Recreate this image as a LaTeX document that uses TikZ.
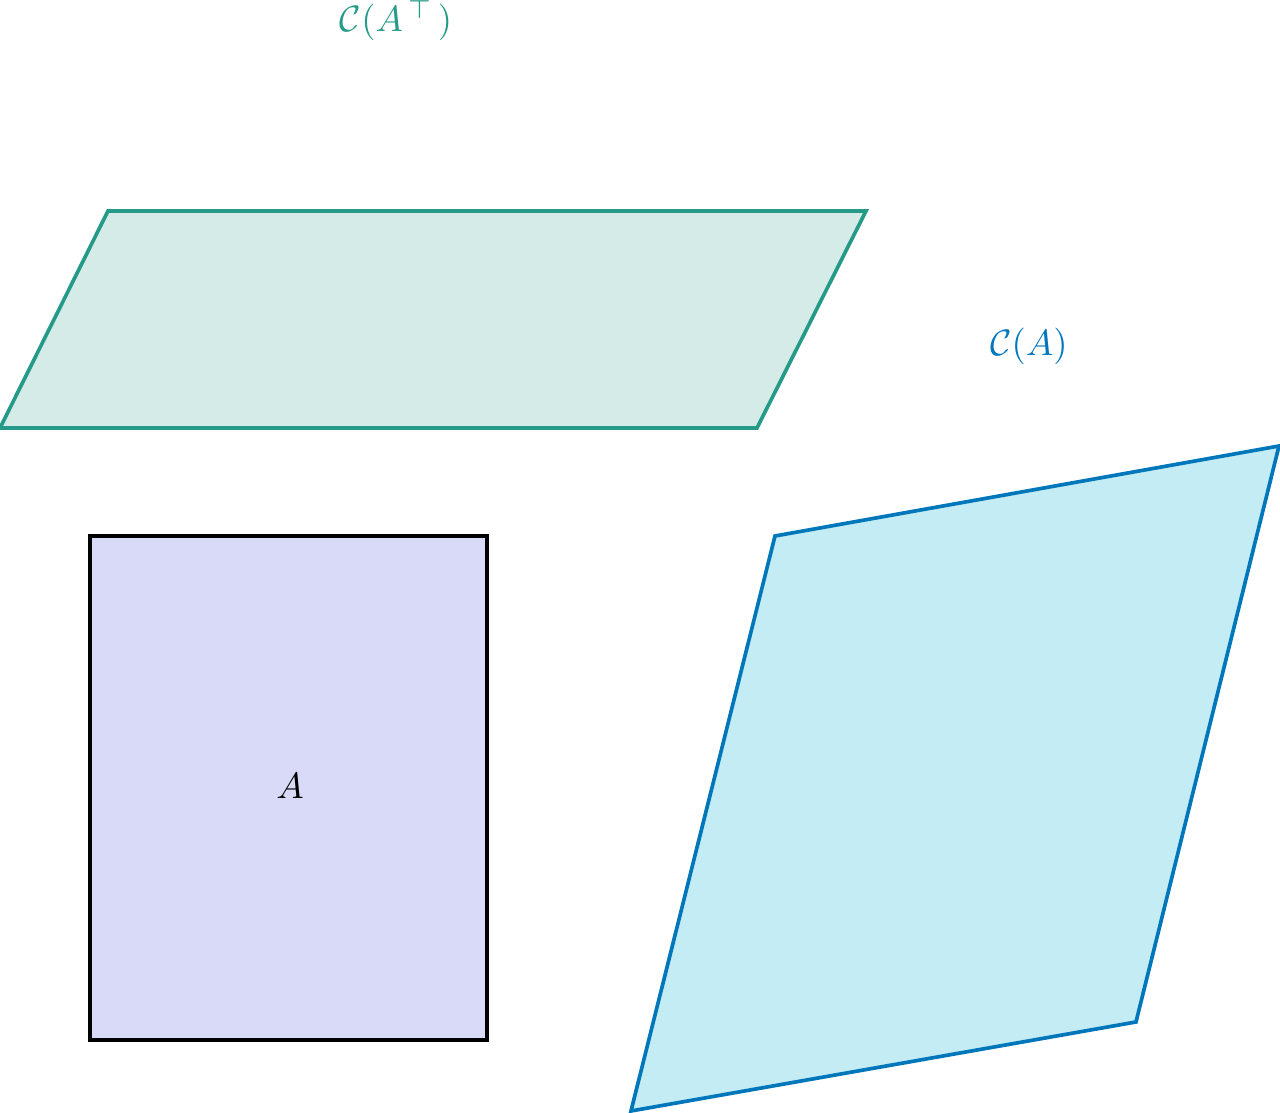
\documentclass[tikz,border=0pt]{standalone}
\usepackage{amsmath,amssymb}
\definecolor{tealline}{RGB}{38,154,136}
\definecolor{tealfill}{RGB}{213,235,231}
\definecolor{blueline}{RGB}{0,119,187}
\definecolor{bluefill}{RGB}{196,236,244}
\definecolor{rectfill}{RGB}{216,218,248}
\begin{document}
\begin{tikzpicture}[x=0.0096cm,y=-0.0096cm,
  plane/.style={line width=1pt, line join=miter},
  lbl/.style={inner sep=0pt}]
\useasboundingbox (0,0) rectangle (1280,1113);
% row space plane
\coordinate (g1) at (108,211);
\coordinate (g2) at (866,211);
\coordinate (g3) at (757,428);
\coordinate (g4) at (0,428);
\draw[plane, draw=tealline, fill=tealfill] (g1) -- (g2) -- (g3) -- (g4) -- cycle;
% column space plane
\coordinate (b1) at (775,536);
\coordinate (b2) at (1279,446);
\coordinate (b3) at (1136,1022);
\coordinate (b4) at (631,1111);
\draw[plane, draw=blueline, fill=bluefill] (b1) -- (b2) -- (b3) -- (b4) -- cycle;
% matrix
\node[draw=black, line width=1.1pt, fill=rectfill, minimum width=397*0.0096cm, minimum height=504*0.0096cm, anchor=north west, inner sep=0pt, outer sep=0pt] (A) at (90,536) {};
\node[lbl] (Alab) at (290,786) {$A$};
\node[lbl, text=tealline] (rowlab) at (396,21) {$\mathcal{C}(A^{\,\top\,})$};
\node[lbl, text=blueline] (collab) at (1029,346) {$\mathcal{C}(A)$};
\end{tikzpicture}
\end{document}
